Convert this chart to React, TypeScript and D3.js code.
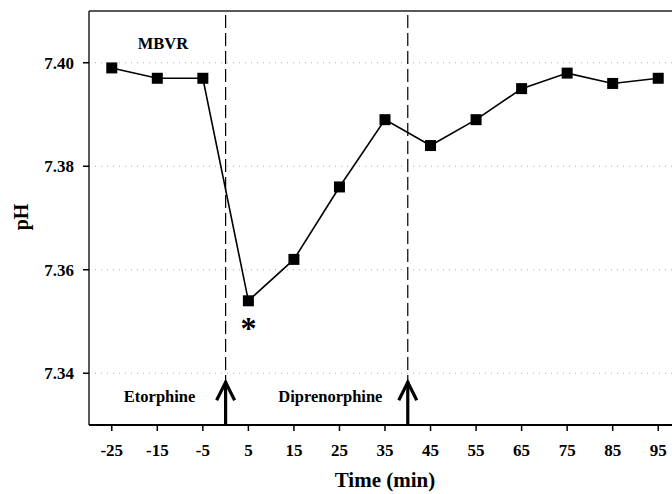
import React from "react";
import * as d3 from "d3";

const times = [-25, -15, -5, 5, 15, 25, 35, 45, 55, 65, 75, 85, 95];
const phValues = [7.399, 7.397, 7.397, 7.354, 7.362, 7.376, 7.389, 7.384, 7.389, 7.395, 7.398, 7.396, 7.397];
const yTicks = [7.34, 7.36, 7.38, 7.4];
const drugEvents = [
  { time: 0, label: "Etorphine", labelX: -14.5 },
  { time: 40, label: "Diprenorphine", labelX: -17 },
];

const width = 672;
const height = 494;
const margin = { top: 11, right: -9, bottom: 69, left: 89 };
const font = "'Liberation Serif', 'Times New Roman', serif";

const App = () => {
  const x = d3.scaleLinear().domain([-30, 100]).range([margin.left, width - margin.right]);
  const y = d3.scaleLinear().domain([7.33, 7.41]).range([height - margin.bottom, margin.top]);

  const line = d3
    .line<number>()
    .x((_, i) => x(times[i]))
    .y((d) => y(d));

  const bottom = height - margin.bottom;
  const base = y(7.34);

  return (
    <svg width={width} height={height} style={{ position: "absolute", left: 0, top: 0 }}>
      <rect width={width} height={height} fill="#fff" />
      {/* grid */}
      {yTicks.map((t) => (
        <line key={t} x1={margin.left} x2={width} y1={y(t)} y2={y(t)} stroke="#aaa" strokeWidth={1} strokeDasharray="1 5" />
      ))}
      {/* frame */}
      <line x1={margin.left} x2={width} y1={margin.top} y2={margin.top} stroke="#222" strokeWidth={1.5} />
      <line x1={margin.left} x2={margin.left} y1={margin.top} y2={bottom} stroke="#222" strokeWidth={1.5} />
      <line x1={margin.left} x2={width} y1={bottom} y2={bottom} stroke="#000" strokeWidth={2} />
      {/* y ticks */}
      {yTicks.map((t) => (
        <g key={t}>
          <line x1={margin.left - 6} x2={margin.left} y1={y(t)} y2={y(t)} stroke="#000" strokeWidth={1.5} />
          <text x={74} y={y(t)} dy="0.35em" textAnchor="end" fontFamily={font} fontWeight="bold" fontSize={17}>
            {t.toFixed(2)}
          </text>
        </g>
      ))}
      {/* x ticks */}
      {times.map((t) => (
        <g key={t}>
          <line x1={x(t)} x2={x(t)} y1={bottom} y2={bottom + 6} stroke="#000" strokeWidth={1.5} />
          <text x={x(t)} y={bottom + 31} textAnchor="middle" fontFamily={font} fontWeight="bold" fontSize={17}>
            {t}
          </text>
        </g>
      ))}
      {/* drug events */}
      {drugEvents.map((e) => (
        <g key={e.label}>
          <line x1={x(e.time)} x2={x(e.time)} y1={margin.top + 4} y2={bottom} stroke="#000" strokeWidth={1.2} strokeDasharray="13 5" />
          <line x1={x(e.time)} x2={x(e.time)} y1={base + 8} y2={bottom} stroke="#000" strokeWidth={3.2} />
          <path
            d={`M${x(e.time) - 9},${base + 27} L${x(e.time)},${base + 9} L${x(e.time) + 9},${base + 27}`}
            fill="none"
            stroke="#000"
            strokeWidth={3.2}
          />
          <text x={x(e.time + e.labelX)} y={base + 29} textAnchor="middle" fontFamily={font} fontWeight="bold" fontSize={16.5}>
            {e.label}
          </text>
        </g>
      ))}
      {/* series */}
      <path d={line(phValues) ?? ""} fill="none" stroke="#000" strokeWidth={1.6} />
      {phValues.map((v, i) => (
        <rect key={i} x={x(times[i]) - 5.5} y={y(v) - 5.5} width={11} height={11} fill="#000" />
      ))}
      <text x={x(5)} y={y(7.354) + 38} textAnchor="middle" fontFamily={font} fontWeight="bold" fontSize={32}>
        *
      </text>
      <text x={163} y={49} textAnchor="middle" fontFamily={font} fontWeight="bold" fontSize={16.5}>
        MBVR
      </text>
      <text
        transform={`translate(28, 217) rotate(-90)`}
        textAnchor="middle"
        fontFamily={font}
        fontWeight="bold"
        fill="#000"
        fontSize={20}
      >
        pH
      </text>
      <text x={385} y={487} textAnchor="middle" fontFamily={font} fontWeight="bold" fontSize={21}>
        Time (min)
      </text>
    </svg>
  );
};

export default App;
